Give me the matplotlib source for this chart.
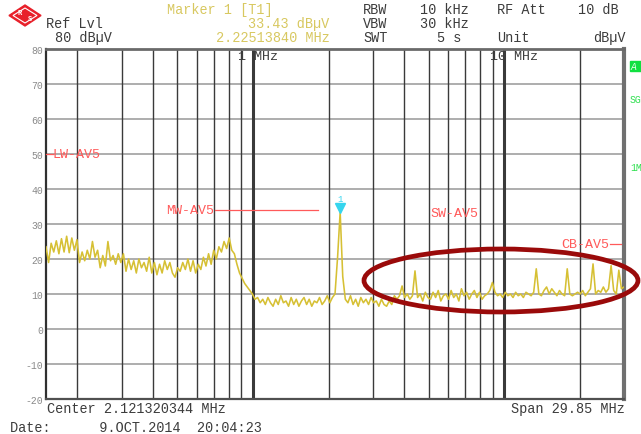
import numpy as np
import matplotlib
matplotlib.use("Agg")
import matplotlib.pyplot as plt
from matplotlib.patches import Ellipse, Polygon
from matplotlib.transforms import offset_copy

plt.rcParams['font.family'] = ['Liberation Mono', 'DejaVu Sans Mono']
plt.rcParams['axes.unicode_minus'] = False

# sweep settings
f_start, f_stop = 0.15, 30.0          # MHz
ref_level, bottom_level = 80, -20     # dBuV
marker_f = 2.22513840                 # MHz
marker_db = 33.43

# average detector trace, 225 log-spaced sweep points
trace_db = [
    23.5, 19.0, 24.5, 22.0, 25.2, 21.5, 25.8, 22.0, 26.5, 21.8, 26.0, 22.5, 25.5,
    19.0, 22.0, 19.5, 22.5, 20.0, 25.0, 20.5, 22.5, 17.5, 21.0, 18.0, 25.0, 19.5, 21.0, 18.5, 21.5, 19.0,
    21.5, 16.5, 20.0, 17.0, 19.5, 16.0, 20.0, 17.5, 19.0, 16.5, 20.5, 16.0, 19.0, 15.5, 18.5, 16.0, 19.5,
    17.0, 19.0, 16.0, 14.8, 17.5, 16.5, 19.0, 17.0, 20.0, 16.5, 19.5, 16.0, 18.5,
    17.0, 20.5, 18.0, 21.5, 18.5, 22.5, 20.0, 23.5, 22.0, 25.0, 23.0, 26.0, 22.5,
    21.5, 18.5, 16.0, 14.5, 13.0, 12.0, 11.0, 10.0, 8.5, 9.0, 7.5,
    8.5, 7.0, 9.0, 7.5, 6.5, 8.5, 7.0, 9.5, 7.5, 8.0, 6.5, 9.0, 7.0, 8.5,
    6.5, 8.0, 9.0, 7.0, 8.5, 6.5, 8.0, 7.5, 9.0, 7.0, 8.0, 9.5, 7.5, 9.0,
    10.0, 20.5, marker_db, 15.0, 8.5,
    7.5, 9.5, 7.0, 8.5, 6.5, 9.0, 7.5, 8.5, 7.0, 9.0, 7.5, 8.0, 6.5, 8.5, 7.0, 6.5, 8.0, 7.0, 9.5, 8.5, 9.5,
    12.3, 9.0, 10.0, 8.5, 9.5, 16.6, 9.0,
    10.0, 8.0, 10.5, 9.0, 8.5, 10.5, 9.0, 11.0, 8.0, 9.5, 10.0, 8.5, 11.0, 9.0,
    10.0, 8.0, 11.5, 9.5, 10.5, 8.5, 10.0, 11.0, 9.0, 10.5, 8.5, 9.5, 10.0, 11.0,
    13.3, 10.5, 9.5, 10.0,
    9.0, 10.5, 9.5, 10.0, 9.0, 10.5, 9.5, 10.0, 9.0, 10.5, 10.0, 9.5, 10.5,
    17.2, 10.0, 9.5, 11.0, 12.0, 10.0, 11.5, 10.5, 9.5, 11.0, 10.0, 9.5,
    17.2, 10.0, 9.5, 10.0, 10.5, 10.0, 11.0, 9.5, 10.5, 11.5,
    18.6, 10.0, 11.0, 10.5, 12.0, 10.5, 11.5,
    18.1, 11.0, 10.0, 16.8, 11.5, 12.0,
]
trace_f = np.geomspace(f_start, f_stop, len(trace_db))

# display lines (band limits)
limit_names = ['LW-AV5', 'MW-AV5', 'SW-AV5', 'CB-AV5']
limit_db = [50, 34, 33.2, 24.3]
limit_text_f = [0.1596, 0.451, 5.09, 16.9]
limit_line_f = [(0.15, 0.1596), (0.707, 1.82), None, (26.5, 29.1)]

grid_f = [0.2, 0.3, 0.4, 0.5, 0.6, 0.7, 0.8, 0.9, 1, 2, 3, 4, 5, 6, 7, 8, 9, 10, 20]
bold_f = [1, 10]
yticks = list(range(bottom_level, ref_level + 1, 10))

W, H = 641, 435
fig = plt.figure(figsize=(W / 100, H / 100), dpi=100)
ax = fig.add_axes([46 / W, 35 / H, 578 / W, 350 / H])

def px(x, y):
    return x / W, 1 - y / H

ax.set_xscale('log')
ax.set_xlim(f_start, f_stop)
ax.set_ylim(bottom_level, ref_level)
ax.set_xticks([])
ax.set_xticks([], minor=True)
ax.set_yticks(yticks)
ax.set_yticklabels([str(v) for v in yticks], fontsize=7, color='#8a8a8a')
ax.tick_params(axis='y', length=0, pad=2)

for v in yticks[1:-1]:
    ax.axhline(v, color='#a0a0a0', lw=1.2, zorder=1)
for f in grid_f:
    ax.axvline(f, color='#3a3a3a', lw=2.2 if f in bold_f else 1.0, zorder=2)

ax.spines['left'].set_color('#303030')
ax.spines['left'].set_linewidth(1.6)
ax.spines['bottom'].set_color('#505050')
ax.spines['bottom'].set_linewidth(1.6)
ax.spines['top'].set_color('#6a6a6a')
ax.spines['top'].set_linewidth(2.0)
ax.spines['right'].set_color('#707070')
ax.spines['right'].set_linewidth(3.0)

ax.plot(trace_f, trace_db, color='#d6c034', lw=1.15, zorder=4)

# limit lines with labels
for name, db, ft, seg in zip(limit_names, limit_db, limit_text_f, limit_line_f):
    if seg is not None:
        ax.plot(seg, [db, db], color='#ff5a5a', lw=0.9, zorder=3, clip_on=False)
    ax.text(ft, db, name, color='#ff5a5a', fontsize=9.6, va='center', ha='left', zorder=5)

# marker 1
tri = offset_copy(ax.transData, fig=fig, x=0, y=4, units='dots')
ax.plot([marker_f], [marker_db], marker='v', ms=7.5, color='#35d5ee', transform=tri, zorder=6)
lbl = offset_copy(ax.transData, fig=fig, x=0, y=13, units='dots')
ax.text(marker_f, marker_db, '1', color='#35d5ee', fontsize=6.5, ha='center', va='center', transform=lbl)

# frequency labels along the top
ax.text(0.87, 78, '1 MHz', fontsize=9.6, color='#3c3c3c', va='center', ha='left')
ax.text(8.75, 78, '10 MHz', fontsize=9.6, color='#3c3c3c', va='center', ha='left')

ax.add_patch(Ellipse(px(501, 281.5), 274 / W, 63 / H, transform=fig.transFigure,
                     fill=False, edgecolor='#9a0a0a', lw=3.4, clip_on=False, zorder=10))

# header block
fs = 9.75
dark = '#3c3c3c'
yel = '#d8c860'
fig.text(*px(46, 24), 'Ref Lvl', fontsize=fs, color=dark, va='center')
fig.text(*px(55, 38), '80 dBµV', fontsize=fs, color=dark, va='center')
fig.text(*px(167, 10), 'Marker 1 [T1]', fontsize=fs, color=yel, va='center')
fig.text(*px(248, 24), '%.2f dBµV' % marker_db, fontsize=fs, color=yel, va='center')
fig.text(*px(216, 38), '%.8f MHz' % marker_f, fontsize=fs, color=yel, va='center')
fig.text(*px(363, 10), 'RBW', fontsize=fs, color=dark, va='center')
fig.text(*px(420, 10), '10 kHz', fontsize=fs, color=dark, va='center')
fig.text(*px(497, 10), 'RF Att', fontsize=fs, color=dark, va='center')
fig.text(*px(578, 10), '10 dB', fontsize=fs, color=dark, va='center')
fig.text(*px(363, 24), 'VBW', fontsize=fs, color=dark, va='center')
fig.text(*px(420, 24), '30 kHz', fontsize=fs, color=dark, va='center')
fig.text(*px(363, 38), 'SWT', fontsize=fs, color=dark, va='center')
fig.text(*px(437, 38), '5 s', fontsize=fs, color=dark, va='center')
fig.text(*px(497, 38), 'Unit', fontsize=fs, color=dark, va='center')
fig.text(*px(593, 38), 'dBµV', fontsize=fs, color=dark, va='center')

# footer
fig.text(*px(47, 409), 'Center 2.121320344 MHz', fontsize=fs, color=dark, va='center')
fig.text(*px(511, 409), 'Span 29.85 MHz', fontsize=fs, color=dark, va='center')
fig.text(*px(10, 428), 'Date:      9.OCT.2014  20:04:23', fontsize=fs, color=dark, va='center')

# side annotations
fig.patches.append(plt.Rectangle(px(630, 72), 12 / W, 10 / H, transform=fig.transFigure,
                                 color='#10e040', figure=fig))
fig.text(*px(631, 67), 'A', fontsize=7, color='#e8ffe8', va='center', style='italic')
fig.text(*px(630, 100), 'SG', fontsize=7, color='#30e050', va='center')
fig.text(*px(630, 168), '1M', fontsize=7, color='#30e050', va='center')

# R&S logo
cx, cy, hw, hh = 25, 16.5, 16, 10.5
outer = [px(cx - hw, cy), px(cx, cy - hh), px(cx + hw, cy), px(cx, cy + hh)]
fig.patches.append(Polygon(outer, closed=True, transform=fig.transFigure, color='#e8202a', figure=fig))
inner = [px(cx - hw + 4, cy), px(cx, cy - hh + 3), px(cx + hw - 4, cy), px(cx, cy + hh - 3)]
fig.patches.append(Polygon(inner, closed=True, transform=fig.transFigure, fill=False,
                           edgecolor='white', lw=0.8, figure=fig))
fig.text(*px(cx - 5, cy - 3), 'R', fontsize=5, color='white', ha='center', va='center', weight='bold')
fig.text(*px(cx + 5, cy + 3), 'S', fontsize=5, color='white', ha='center', va='center', weight='bold')

fig.savefig('out.png', dpi=100)
